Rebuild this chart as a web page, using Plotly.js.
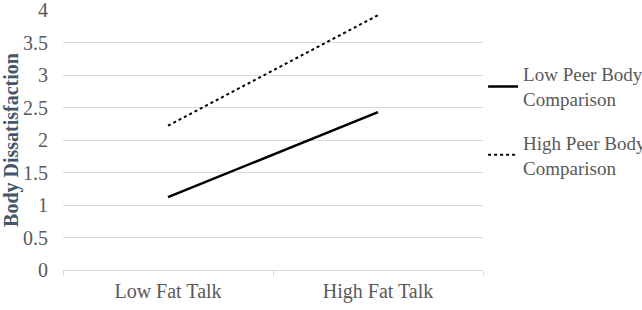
<!DOCTYPE html>
<html><head><meta charset="utf-8">
<script src="https://cdn.plot.ly/plotly-3.0.1.min.js"></script>
<style>html,body{margin:0;padding:0;background:#fff}</style>
</head><body><div id="chart" style="width:642px;height:310px"></div>
<script>
const categories = ["Low Fat Talk", "High Fat Talk"];
const lowPeer = [1.12, 2.43];
const highPeer = [2.22, 3.92];
const seriesNames = ["Low Peer Body<br>Comparison", "High Peer Body<br>Comparison"];
const yTicks = [0, 0.5, 1, 1.5, 2, 2.5, 3, 3.5, 4];

const font = "'Liberation Serif', 'Times New Roman', serif";
const traces = [
  {x: categories, y: lowPeer, name: seriesNames[0], legendgroup: "a", type: "scatter", mode: "lines",
   line: {color: "#000", width: 2.5}},
  {x: categories, y: highPeer, name: seriesNames[1], legendgroup: "b", type: "scatter", mode: "lines",
   line: {color: "#000", width: 2, dash: "dot"}}
];
const layout = {
  width: 642, height: 310,
  margin: {l: 63, r: 159, t: 10, b: 40},
  paper_bgcolor: "#fff", plot_bgcolor: "#fff",
  font: {family: font, size: 20, color: "#595959"},
  showlegend: true,
  legend: {xref: "container", yref: "container", x: 0.7525, y: 0.822, xanchor: "left", yanchor: "top",
           itemwidth: 30, tracegroupgap: 16,
           font: {family: font, size: 19, color: "#595959"},
           bgcolor: "rgba(0,0,0,0)"},
  xaxis: {type: "category", range: [-0.5, 1.5], showgrid: false, zeroline: false,
          showline: true, linecolor: "#d9d9d9", linewidth: 1,
          ticks: "outside", tickson: "boundaries", ticklen: 5, tickcolor: "#d9d9d9",
          ticklabelstandoff: 3,
          tickfont: {family: font, size: 20, color: "#595959"}},
  yaxis: {range: [0, 4], tickvals: yTicks, ticktext: yTicks.map(String),
          showgrid: true, gridcolor: "#d9d9d9", zeroline: false, showline: false,
          ticks: "", ticklabelstandoff: 14, ticklabeloverflow: "allow",
          tickfont: {family: font, size: 20, color: "#595959"},
          title: {text: "<b>Body Dissatisfaction</b>", standoff: 2,
                  font: {family: font, size: 20, color: "#44546A"}}}
};
Plotly.newPlot("chart", traces, layout, {displayModeBar: false, staticPlot: true});
</script></body></html>
